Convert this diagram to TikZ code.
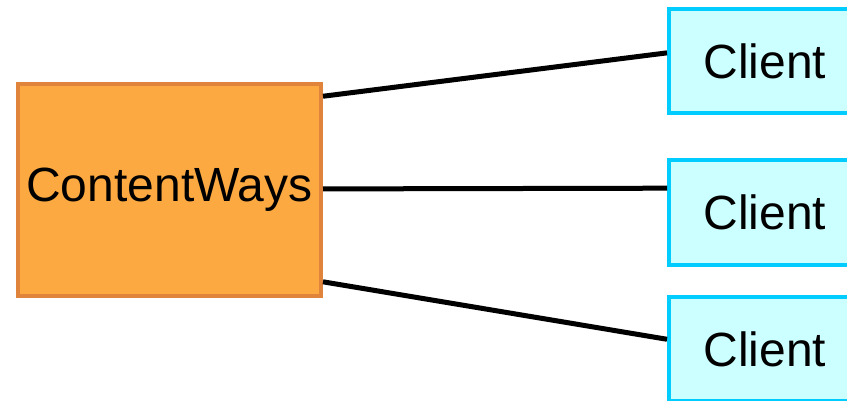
\documentclass[tikz,border=0pt]{standalone}
\usepackage{fontspec}
\setmainfont{Liberation Sans}
\usetikzlibrary{calc}
\definecolor{cwfill}{HTML}{FBA940}
\definecolor{cwline}{HTML}{E0843C}
\definecolor{clfill}{HTML}{CCFFFF}
\definecolor{clline}{HTML}{00CCFF}
\tikzset{
  server/.style={draw=cwline, fill=cwfill, line width=4pt, inner sep=0pt,
    minimum width=303pt, minimum height=212pt, font=\fontsize{48}{58}\selectfont},
  client/.style={draw=clline, fill=clfill, line width=4pt, inner sep=0pt,
    minimum width=192pt, minimum height=104pt, font=\fontsize{48}{58}\selectfont},
  link/.style={line width=5pt, black}
}
\begin{document}
\begin{tikzpicture}[x=1pt,y=-1pt]
\clip (0,0) rectangle (847,401);
\fill[white] (0,0) rectangle (847,401);
\node[server] (cw) at (169.5,190) {ContentWays};
\node[client] (c1) at (765,61.5) {Client};
\node[client] (c2) at (765,212.5) {Client};
\node[client] (c3) at (765,349) {Client};
\draw[link] ($(cw.north east)!0.066!(cw.south east)$) -- ($(c1.north west)!0.42!(c1.south west)$);
\draw[link] ($(cw.north east)!0.495!(cw.south east)$) -- ($(c2.north west)!0.275!(c2.south west)$);
\draw[link] ($(cw.north east)!0.925!(cw.south east)$) -- ($(c3.north west)!0.41!(c3.south west)$);
\end{tikzpicture}
\end{document}
